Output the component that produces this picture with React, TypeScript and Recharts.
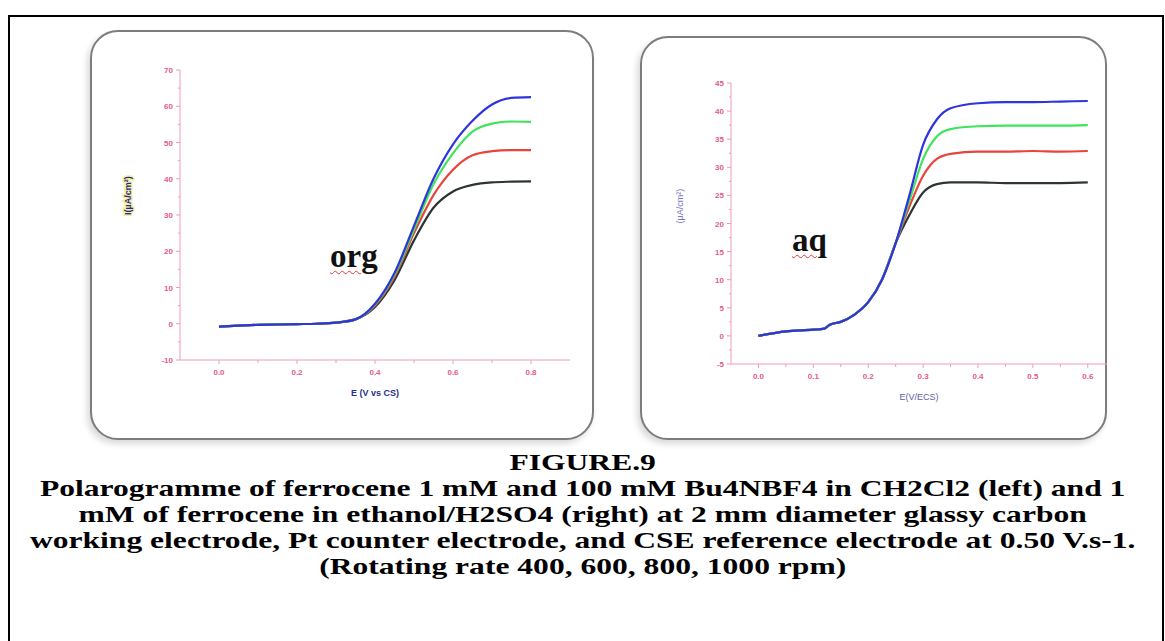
import React from 'react';
import { LineChart, Line, XAxis, YAxis } from 'recharts';

// left panel: ferrocene in CH2Cl2 / Bu4NBF4 ("org")
const orgPotential = [0, 0.05, 0.1, 0.15, 0.2, 0.25, 0.3, 0.35, 0.4, 0.45, 0.5, 0.55, 0.6, 0.65, 0.7, 0.75, 0.8];
const org400 = [-0.8, -0.5, -0.3, -0.2, -0.1, 0, 0.3, 1.2, 4.6, 12, 23, 32, 36.5, 38.3, 39, 39.2, 39.3];
const org600 = [-0.8, -0.5, -0.3, -0.2, -0.1, 0, 0.3, 1.2, 5, 13, 25, 35.5, 42.5, 46.5, 47.6, 47.9, 47.9];
const org800 = [-0.8, -0.5, -0.3, -0.2, -0.1, 0, 0.3, 1.2, 5.3, 13.5, 26, 38.5, 47, 53, 55.2, 55.8, 55.7];
const org1000 = [-0.8, -0.5, -0.3, -0.2, -0.1, 0, 0.3, 1.2, 5.5, 14, 27, 40, 49.5, 56, 60.5, 62.3, 62.5];

// right panel: ferrocene in ethanol / H2SO4 ("aq")
const aqPotential = [0, 0.05, 0.1, 0.12, 0.13, 0.15, 0.175, 0.2, 0.225, 0.25, 0.275, 0.3, 0.325, 0.35, 0.4, 0.45, 0.5, 0.55, 0.6];
const aq400 = [0, 0.8, 1.1, 1.3, 2, 2.5, 3.8, 6, 10, 16.5, 21.5, 25.5, 27, 27.3, 27.3, 27.2, 27.2, 27.2, 27.3];
const aq600 = [0, 0.8, 1.1, 1.3, 2, 2.5, 3.8, 6, 10, 16.5, 23, 28.5, 31.5, 32.4, 32.8, 32.8, 32.9, 32.8, 32.9];
const aq800 = [0, 0.8, 1.1, 1.3, 2, 2.5, 3.8, 6, 10, 16.5, 24, 31.5, 35.5, 36.8, 37.3, 37.4, 37.4, 37.4, 37.5];
const aq1000 = [0, 0.8, 1.1, 1.3, 2, 2.5, 3.8, 6, 10, 16.5, 25, 34, 38.5, 40.5, 41.4, 41.6, 41.6, 41.7, 41.8];

const orgXTicks = [0, 0.1, 0.2, 0.3, 0.4, 0.5, 0.6, 0.7, 0.8];
const orgXLabels = [0, 0.2, 0.4, 0.6, 0.8];
const orgYTicks = [-10, -5, 0, 5, 10, 15, 20, 25, 30, 35, 40, 45, 50, 55, 60, 65, 70];
const orgYLabels = [-10, 0, 10, 20, 30, 40, 50, 60, 70];

const aqXTicks = [0, 0.05, 0.1, 0.15, 0.2, 0.25, 0.3, 0.35, 0.4, 0.45, 0.5, 0.55, 0.6];
const aqXLabels = [0, 0.1, 0.2, 0.3, 0.4, 0.5, 0.6];
const aqYTicks = [-5, -2.5, 0, 2.5, 5, 7.5, 10, 12.5, 15, 17.5, 20, 22.5, 25, 27.5, 30, 32.5, 35, 37.5, 40, 42.5, 45];
const aqYLabels = [-5, 0, 5, 10, 15, 20, 25, 30, 35, 40, 45];

const captionLines = [
  'FIGURE.9',
  'Polarogramme of ferrocene 1 mM and 100 mM Bu4NBF4 in CH2Cl2 (left) and 1',
  'mM of ferrocene in ethanol/H2SO4 (right) at 2 mm diameter glassy carbon',
  'working electrode, Pt counter electrode, and CSE reference electrode at 0.50 V.s-1.',
  '(Rotating rate 400, 600, 800, 1000 rpm)',
];

const orgData = orgPotential.map((e, i) => ({
  e,
  r400: org400[i],
  r600: org600[i],
  r800: org800[i],
  r1000: org1000[i],
}));

const aqData = aqPotential.map((e, i) => ({
  e,
  r400: aq400[i],
  r600: aq600[i],
  r800: aq800[i],
  r1000: aq1000[i],
}));

const pink = '#f19bb8';
const pinkText = '#e45a8c';

const XTick = (props: any) => {
  const { x, y, payload, labels, digits } = props;
  const major = labels.some((v: number) => Math.abs(v - payload.value) < 1e-6);
  return (
    <g>
      <line x1={x} x2={x} y1={y} y2={y + (major ? 4 : 3)} stroke={pink} />
      {major && (
        <text x={x} y={y + 15} textAnchor="middle" fontSize={8} fontWeight="bold" fill={pinkText} fontFamily="Arial">
          {payload.value.toFixed(digits)}
        </text>
      )}
    </g>
  );
};

const YTick = (props: any) => {
  const { x, y, payload, labels } = props;
  const major = labels.includes(payload.value);
  return (
    <g>
      <line x1={x - (major ? 4 : 2)} x2={x} y1={y} y2={y} stroke={pink} />
      {major && (
        <text x={x - 7} y={y + 3} textAnchor="end" fontSize={8} fontWeight="bold" fill={pinkText} fontFamily="Arial">
          {payload.value}
        </text>
      )}
    </g>
  );
};

const series = [
  { key: 'r400', color: '#2e3436' },
  { key: 'r600', color: '#e8433d' },
  { key: 'r800', color: '#3fe45a' },
  { key: 'r1000', color: '#2f35dc' },
];

const panelStyle: React.CSSProperties = {
  position: 'absolute',
  border: '2px solid #7d7d7d',
  borderRadius: 28,
  background: '#fff',
  boxShadow: '-3px 4px 6px rgba(0,0,0,0.15)',
};

const tagStyle: React.CSSProperties = {
  position: 'absolute',
  fontFamily: '"Liberation Serif", serif',
  fontWeight: 'bold',
  fontSize: 33,
  lineHeight: '33px',
  color: '#111',
  textDecoration: 'underline wavy #e23a3a',
  textDecorationThickness: 1,
  textUnderlineOffset: 3,
};

export default function App() {
  return (
    <div style={{ position: 'absolute', left: 0, top: 0, width: 1165, height: 641, background: '#fff', overflow: 'hidden' }}>
      <div style={{ position: 'absolute', left: 8, top: 15, width: 1152, height: 700, border: '2px solid #000' }} />

      <div style={{ ...panelStyle, left: 90, top: 30, width: 500, height: 406 }} />
      <div style={{ ...panelStyle, left: 640, top: 36, width: 463, height: 400 }} />

      <div style={{ position: 'absolute', left: 120, top: 55 }}>
        <LineChart width={470} height={350} data={orgData} margin={{ top: 15, right: 20, bottom: 5, left: 0 }}>
          <XAxis
            dataKey="e"
            type="number"
            domain={[-0.1, 0.9]}
            ticks={orgXTicks}
            interval={0}
            stroke={pink}
            tickLine={false}
            tickSize={0}
            tickMargin={0}
            height={40}
            tick={(p: any) => <XTick {...p} labels={orgXLabels} digits={1} />}
            label={{ value: 'E (V vs CS)', position: 'insideBottom', offset: 4, fontSize: 9, fontWeight: 'bold', fill: '#2a2f8a', fontFamily: 'Arial' }}
          />
          <YAxis
            type="number"
            domain={[-10, 70]}
            ticks={orgYTicks}
            interval={0}
            stroke={pink}
            tickLine={false}
            tickSize={0}
            tickMargin={0}
            width={60}
            tick={(p: any) => <YTick {...p} labels={orgYLabels} />}
            label={{
              value: 'I(µA/cm²)',
              angle: -90,
              position: 'insideLeft',
              offset: 8,
              fontSize: 9,
              fontWeight: 'bold',
              fill: '#25288a',
              fontFamily: 'Arial',
              style: { stroke: '#f3f0a0', strokeWidth: 3, paintOrder: 'stroke' },
            }}
          />
          {series.map((s) => (
            <Line key={s.key} dataKey={s.key} type="monotone" stroke={s.color} strokeWidth={2.2} dot={false} isAnimationActive={false} />
          ))}
        </LineChart>
      </div>

      <div style={{ position: 'absolute', left: 671, top: 63 }}>
        <LineChart width={446} height={346} data={aqData} margin={{ top: 20, right: 10, bottom: 5, left: 0 }}>
          <XAxis
            dataKey="e"
            type="number"
            domain={[-0.05, 0.635]}
            ticks={aqXTicks}
            interval={0}
            stroke={pink}
            tickLine={false}
            tickSize={0}
            tickMargin={0}
            height={40}
            tick={(p: any) => <XTick {...p} labels={aqXLabels} digits={1} />}
            label={{ value: 'E(V/ECS)', position: 'insideBottom', offset: 4, fontSize: 9, fill: '#5a5fa8', fontFamily: 'Arial' }}
          />
          <YAxis
            type="number"
            domain={[-5, 45]}
            ticks={aqYTicks}
            interval={0}
            stroke={pink}
            tickLine={false}
            tickSize={0}
            tickMargin={0}
            width={60}
            tick={(p: any) => <YTick {...p} labels={aqYLabels} />}
            label={{ value: '(µA/cm²)', angle: -90, position: 'insideLeft', offset: 9, fontSize: 9, fill: '#7a78c0', fontFamily: 'Arial' }}
          />
          {series.map((s) => (
            <Line key={s.key} dataKey={s.key} type="monotone" stroke={s.color} strokeWidth={2.2} dot={false} isAnimationActive={false} />
          ))}
        </LineChart>
      </div>

      <div style={{ ...tagStyle, left: 330, top: 240 }}>org</div>
      <div style={{ ...tagStyle, left: 792, top: 224 }}>aq</div>

      <div
        style={{
          position: 'absolute',
          left: 0,
          top: 449,
          width: 1165,
          textAlign: 'center',
          fontFamily: '"Liberation Serif", serif',
          fontWeight: 'bold',
          fontSize: 23.4,
          lineHeight: '26px',
          color: '#000',
          transform: 'scaleX(1.35)',
          transformOrigin: '582px 0',
        }}
      >
        {captionLines.map((line) => (
          <div key={line}>{line}</div>
        ))}
      </div>
    </div>
  );
}
